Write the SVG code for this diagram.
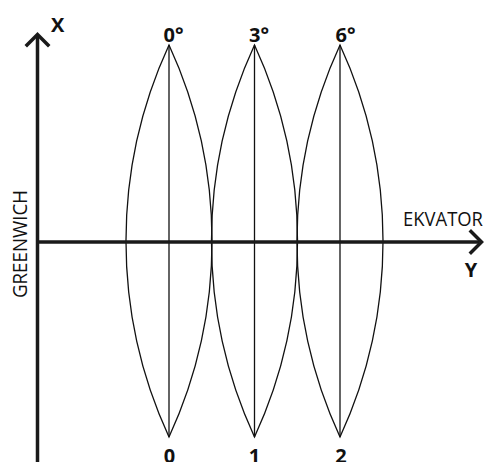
<svg xmlns="http://www.w3.org/2000/svg" width="486" height="462" viewBox="0 0 486 462">
<style>
.axis{stroke:#1a1a1a;stroke-width:3.5;fill:none}
.head{stroke:#1a1a1a;stroke-width:3.5;fill:none;stroke-linecap:square;stroke-linejoin:miter}
.lens{stroke:#111;stroke-width:1.3;fill:none}
.b{font-family:"Open Sans","DejaVu Sans",sans-serif;font-weight:bold;font-size:20px;fill:#111}
.n{font-family:"Open Sans","DejaVu Sans",sans-serif;font-size:19.5px;fill:#111}
</style>
<rect width="486" height="462" fill="#fff"/>
<g id="zone0">
<path class="lens" d="M169,45 A468,468 0 0 0 169,437 A468,468 0 0 0 169,45 Z"/>
<line class="lens" x1="169" y1="45" x2="169" y2="437"/>
<text class="b" x="163.5" y="41.5">0°</text>
<text class="b" x="169.5" y="463" text-anchor="middle">0</text>
</g>
<g id="zone1">
<path class="lens" d="M254.5,45 A468,468 0 0 0 254.5,437 A468,468 0 0 0 254.5,45 Z"/>
<line class="lens" x1="254.5" y1="45" x2="254.5" y2="437"/>
<text class="b" x="249" y="41.5">3°</text>
<text class="b" x="254.5" y="463" text-anchor="middle">1</text>
</g>
<g id="zone2">
<path class="lens" d="M340,45 A468,468 0 0 0 340,437 A468,468 0 0 0 340,45 Z"/>
<line class="lens" x1="340" y1="45" x2="340" y2="437"/>
<text class="b" x="335.5" y="41.5">6°</text>
<text class="b" x="341" y="463" text-anchor="middle">2</text>
</g>
<g id="axes">
<line class="axis" x1="37.5" y1="36" x2="37.5" y2="462"/>
<polyline class="head" points="27,45 37.5,34.5 48,45"/>
<line class="axis" x1="37.5" y1="242" x2="479" y2="242"/>
<polyline class="head" points="471,231.5 481.5,242 471,252.5"/>
</g>
<g id="labels">
<text class="b" x="51" y="32">X</text>
<text class="b" x="471" y="277" text-anchor="middle">Y</text>
<text class="n" x="403" y="226" textLength="80" lengthAdjust="spacingAndGlyphs">EKVATOR</text>
<text class="n" transform="translate(27,244) rotate(-90)" text-anchor="middle" textLength="108" lengthAdjust="spacingAndGlyphs">GREENWICH</text>
</g>
</svg>
